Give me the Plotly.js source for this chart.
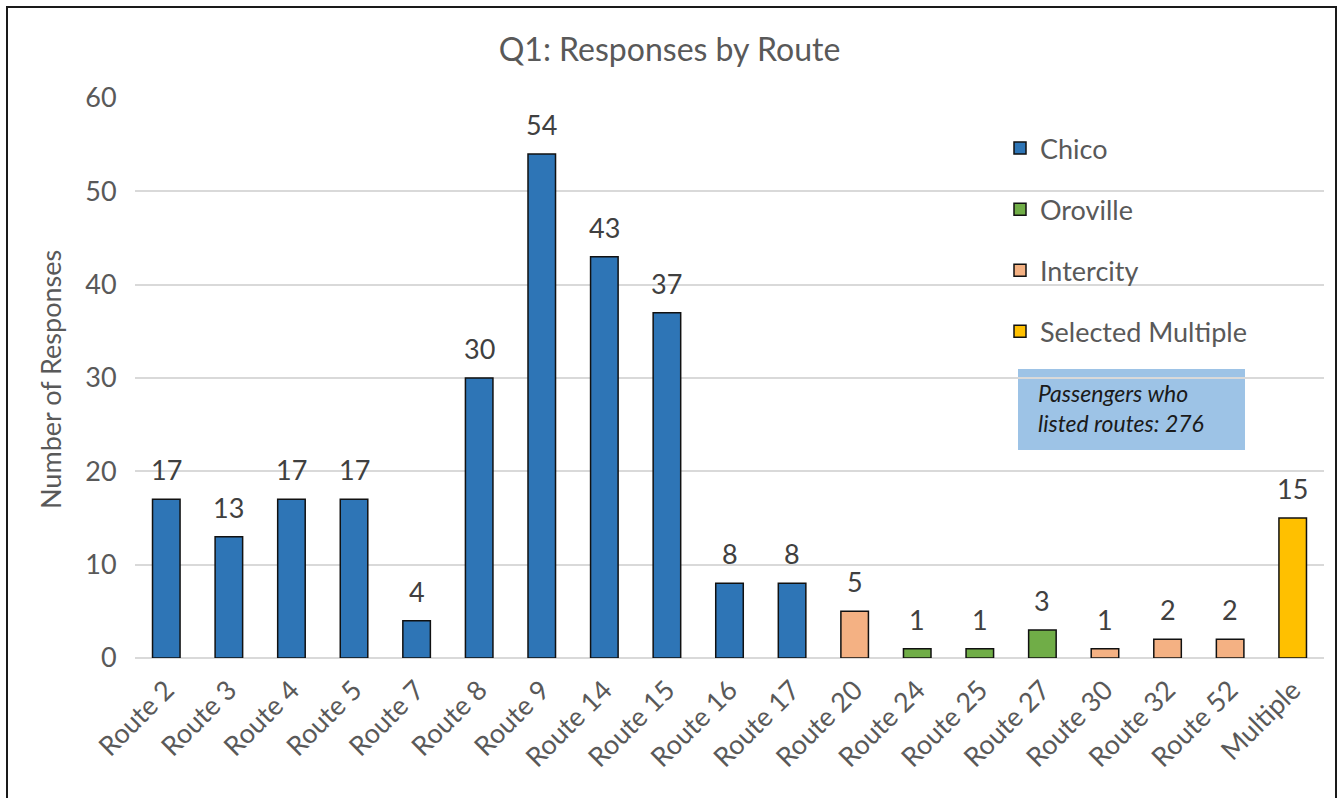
<!DOCTYPE html>
<html><head><meta charset="utf-8">
<script src="https://cdn.plot.ly/plotly-3.0.1.min.js"></script>
<style>
html,body{margin:0;padding:0;background:#fff;overflow:hidden}
#chart{width:1339px;height:798px;position:absolute;left:0;top:0}
#frame{position:absolute;left:6px;top:6px;width:1327px;height:820px;border:2px solid #1a1a1a;pointer-events:none}
</style></head>
<body>
<div id="chart"></div>
<div id="frame"></div>
<script>
const categories = ["Route 2","Route 3","Route 4","Route 5","Route 7","Route 8","Route 9","Route 14","Route 15","Route 16","Route 17","Route 20","Route 24","Route 25","Route 27","Route 30","Route 32","Route 52","Multiple"];
const values = [17,13,17,17,4,30,54,43,37,8,8,5,1,1,3,1,2,2,15];
const groups = ["Chico","Chico","Chico","Chico","Chico","Chico","Chico","Chico","Chico","Chico","Chico","Intercity","Oroville","Oroville","Oroville","Intercity","Intercity","Intercity","Selected Multiple"];
const seriesNames = ["Chico","Oroville","Intercity","Selected Multiple"];
const seriesColors = ["#2E75B6","#70AD47","#F4B183","#FFC000"];
const yTicks = [0,10,20,30,40,50,60];
const yTitle = "Number of Responses";
const noteText = "<i>Passengers who<br>listed routes: 276</i>";

const font = "Lato, 'Open Sans', sans-serif";
const textColor = "#595959";
const L = 135, R = 1324, T = 98, B = 658;
const px = v => (v - L) / (R - L);
const py = v => (B - v) / (B - T);

const traces = seriesNames.map((name, si) => {
  const xs = [], ys = [];
  categories.forEach((c, i) => { if (groups[i] === name) { xs.push(c); ys.push(values[i]); } });
  return {
    type: "bar", name: name, x: xs, y: ys, legendgroup: name,
    width: 0.44,
    marker: {color: seriesColors[si], line: {color: "#111", width: 1.5}},
    hoverinfo: "x+y"
  };
});

const annotations = categories.map((c, i) => ({
  x: c, y: values[i], xref: "x", yref: "y", text: String(values[i]),
  showarrow: false, yanchor: "bottom", yshift: 11,
  font: {family: font, size: 27, color: "#404040"}
}));
annotations.push({
  xref: "paper", yref: "paper", x: px(1036), y: py(408),
  xanchor: "left", yanchor: "middle", showarrow: false, align: "left",
  text: noteText, font: {family: font, size: 23, color: "#1a1a1a"}
});
annotations.push({
  xref: "paper", yref: "paper", x: px(50), y: py(380),
  xanchor: "center", yanchor: "middle", showarrow: false, textangle: -90,
  text: yTitle, font: {family: font, size: 27, color: textColor}
});

const layout = {
  width: 1339, height: 798,
  margin: {l: L, r: 1339 - R, t: T, b: 798 - B},
  paper_bgcolor: "#fff", plot_bgcolor: "#fff",
  font: {family: font, color: textColor},
  title: {text: "Q1: Responses by Route", x: 0.5, xref: "container", y: 1 - 50/798, yanchor: "middle",
          font: {family: font, size: 32, color: textColor}},
  barmode: "overlay",
  showlegend: true,
  legend: {x: px(1000), y: py(124), xanchor: "left", yanchor: "top",
           font: {family: font, size: 27, color: textColor}, traceorder: "grouped",
           tracegroupgap: 23, itemwidth: 30, bgcolor: "rgba(0,0,0,0)"},
  shapes: [{type: "rect", xref: "paper", yref: "paper", x0: px(1018), x1: px(1245), y0: py(450), y1: py(369),
            fillcolor: "#9DC3E6", line: {width: 0}, layer: "below"}],
  xaxis: {type: "category", categoryorder: "array", categoryarray: categories,
          tickangle: -45, tickfont: {family: font, size: 27, color: textColor}, ticklabelstandoff: 10,
          showgrid: false, showline: false, ticks: "", zeroline: false, fixedrange: true},
  yaxis: {range: [0, 60], tickvals: yTicks, tickfont: {family: font, size: 27, color: textColor},
          showgrid: true, gridcolor: "#D9D9D9", gridwidth: 2, zeroline: true, zerolinecolor: "#D9D9D9", zerolinewidth: 2,
          ticks: "outside", ticklen: 12, tickcolor: "rgba(0,0,0,0)", showline: false,
          fixedrange: true},
  annotations: annotations
};

Plotly.newPlot("chart", traces, layout, {displayModeBar: false, staticPlot: true});
</script>
</body></html>
